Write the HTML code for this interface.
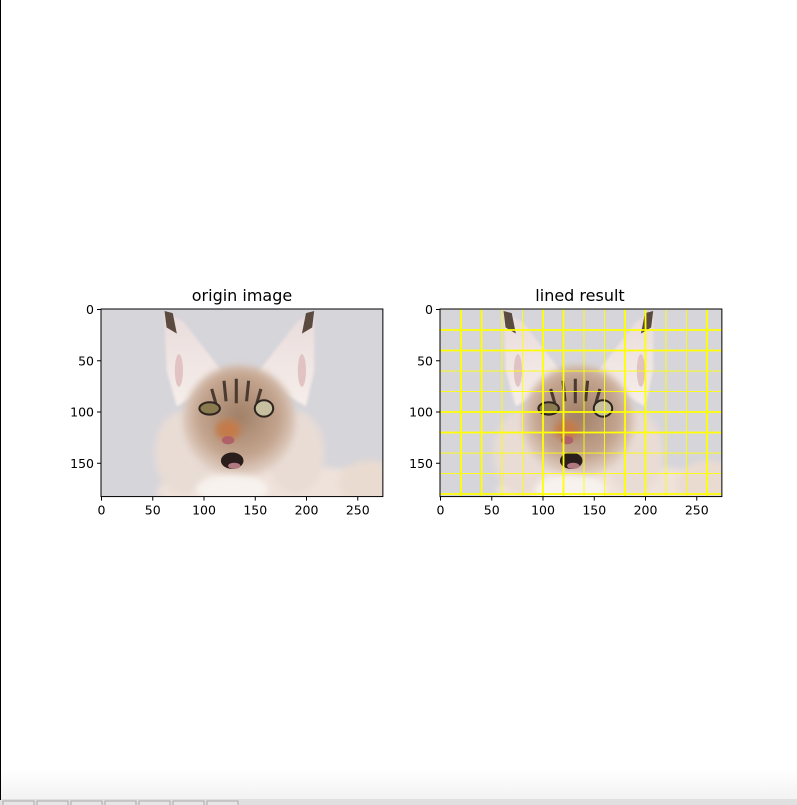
<!DOCTYPE html>
<html><head><meta charset="utf-8"><style>
html,body{margin:0;padding:0;background:#fff;width:797px;height:805px;overflow:hidden;font-family:"DejaVu Sans","Liberation Sans",sans-serif;}
</style></head><body>
<svg id="fig" width="797" height="805" xmlns="http://www.w3.org/2000/svg">
<defs>
<linearGradient id="bot" x1="0" y1="0" x2="0" y2="1"><stop offset="0" stop-color="#fff"/><stop offset="1" stop-color="#f2f2f2"/></linearGradient>
<radialGradient id="head" cx="0.5" cy="0.45" r="0.55"><stop offset="0" stop-color="#a07f66"/><stop offset="0.65" stop-color="#c3a48e"/><stop offset="1" stop-color="#e6d6cc"/></radialGradient>
<linearGradient id="ear" x1="0" y1="0" x2="0" y2="1"><stop offset="0" stop-color="#e9dcdc"/><stop offset="1" stop-color="#f6eeea"/></linearGradient>
<filter id="blur" x="-20%" y="-20%" width="140%" height="140%"><feGaussianBlur stdDeviation="3"/></filter>
<filter id="sblur" x="-20%" y="-20%" width="140%" height="140%"><feGaussianBlur stdDeviation="1.2"/></filter>
<clipPath id="imgclip"><rect x="0" y="0" width="275" height="183"/></clipPath>
<g id="cat" clip-path="url(#imgclip)">
<rect x="0" y="0" width="275" height="183" fill="#d6d5da"/>
<ellipse cx="170" cy="178" rx="115" ry="26" fill="#efe2da" filter="url(#blur)"/>
<ellipse cx="262" cy="170" rx="30" ry="22" fill="#eadbd0" filter="url(#blur)"/>
<polygon points="62,4 80,12 122,66 74,95 64,60" fill="url(#ear)" filter="url(#sblur)"/>
<polygon points="208,4 192,12 150,66 200,95 208,60" fill="url(#ear)" filter="url(#sblur)"/>
<polygon points="62,2 70,4 74,24 64,18" fill="#5b4a40"/>
<polygon points="208,2 200,4 196,24 206,18" fill="#5b4a40"/>
<ellipse cx="76" cy="60" rx="4" ry="16" fill="#e2c3c3"/>
<ellipse cx="196" cy="60" rx="4" ry="16" fill="#e2c3c3"/>
<ellipse cx="80" cy="140" rx="28" ry="40" fill="#e8dcd5" filter="url(#blur)"/>
<ellipse cx="190" cy="140" rx="28" ry="40" fill="#e8dcd5" filter="url(#blur)"/>
<ellipse cx="135" cy="110" rx="55" ry="55" fill="url(#head)" filter="url(#blur)"/>
<path d="M120 70 L122 90 M132 68 L132 92 M144 70 L142 90 M108 78 L112 92 M156 78 L152 92" stroke="#4a3a30" stroke-width="3" fill="none"/>
<ellipse cx="106" cy="97" rx="10" ry="6" fill="#8a7a50" stroke="#2e2520" stroke-width="2"/>
<ellipse cx="159" cy="97" rx="9" ry="8" fill="#c6c0a0" stroke="#2e2520" stroke-width="2"/>
<ellipse cx="124" cy="118" rx="12" ry="10" fill="#c47a4a" filter="url(#blur)"/>
<ellipse cx="124" cy="128" rx="6" ry="4" fill="#b06068"/>
<ellipse cx="128" cy="148" rx="11" ry="8" fill="#2a1e1c"/>
<ellipse cx="130" cy="153" rx="6" ry="3" fill="#b07a80"/>
<ellipse cx="128" cy="176" rx="35" ry="14" fill="#f7f2ee" filter="url(#blur)"/>
</g>
</defs>

<rect x="0" y="770" width="797" height="30" fill="url(#bot)"/>
<rect x="0" y="799" width="797" height="6" fill="#e0e0e0"/>
<rect x="0" y="0" width="1" height="800" fill="#000"/>
<g id="tabs"></g>

<text x="242" y="301" text-anchor="middle" font-size="16" fill="#000">origin image</text>
<text x="580" y="301" text-anchor="middle" font-size="16" fill="#000">lined result</text>

<g id="left"></g>
<g id="right"></g>
</svg>
<script>
var xTicks=[0,50,100,150,200,250];
var yTicks=[0,50,100,150];
var imgW=275, imgH=183;
var thickX=[20,40,100,120,180,200,260];
var thinX=[60,80,140,160,220,240];
var thickY=[20,40,100,120,180];
var thinY=[60,80,140,160];
var NS='http://www.w3.org/2000/svg';
var scale=1.025;
function mk(tag,attrs,parent){var e=document.createElementNS(NS,tag);for(var k in attrs)e.setAttribute(k,attrs[k]);parent.appendChild(e);return e;}
function axes(g,x0,y0,lines){
  var sx=function(u){return x0+(u+0.5)*scale;};
  var sy=function(v){return y0+(v+0.5)*scale;};
  var im=mk('use',{href:'#cat',transform:'translate('+x0+','+y0+') scale('+scale+')'},g);
  
  
  if(lines){
    var gx=[[thickX,1.8],[thinX,0.9]], gy=[[thickY,1.8],[thinY,0.9]];
    gx.forEach(function(p){p[0].forEach(function(u){
      var l=mk('line',{x1:sx(u),x2:sx(u),y1:y0,y2:y0+imgH*scale,stroke:'#ffff00','stroke-width':p[1]},g);
      
      
    });});
    gy.forEach(function(p){p[0].forEach(function(v){
      var l=mk('line',{x1:x0,x2:x0+imgW*scale,y1:sy(v),y2:sy(v),stroke:'#ffff00','stroke-width':p[1]},g);
      
      
    });});
  }
  var fr=mk('rect',{x:x0,y:y0,width:imgW*scale,height:imgH*scale,fill:'none',stroke:'#000','stroke-width':1},g);
  
  
  var yb=y0+imgH*scale;
  xTicks.forEach(function(t){
    mk('line',{x1:sx(t),x2:sx(t),y1:yb,y2:yb+4,stroke:'#000'},g);
    var tx=mk('text',{x:sx(t),y:yb+18,'text-anchor':'middle','font-size':12.5},g);
    tx.textContent=t;
    
    
  });
  yTicks.forEach(function(t){
    mk('line',{x1:x0-4,x2:x0,y1:sy(t),y2:sy(t),stroke:'#000'},g);
    var tx=mk('text',{x:x0-7,y:sy(t)+4.5,'text-anchor':'end','font-size':12.5},g);
    tx.textContent=t;
    
    
  });
}
axes(document.getElementById('left'),101,309,false);
axes(document.getElementById('right'),440,309,true);
var tabs=document.getElementById('tabs');
for(var i=0;i<7;i++){
  var r=mk('rect',{x:3+i*34,y:801,width:31,height:6,fill:'#e6e6e6',stroke:'#aaa'},tabs);
  
  
}
</script>
</body></html>
